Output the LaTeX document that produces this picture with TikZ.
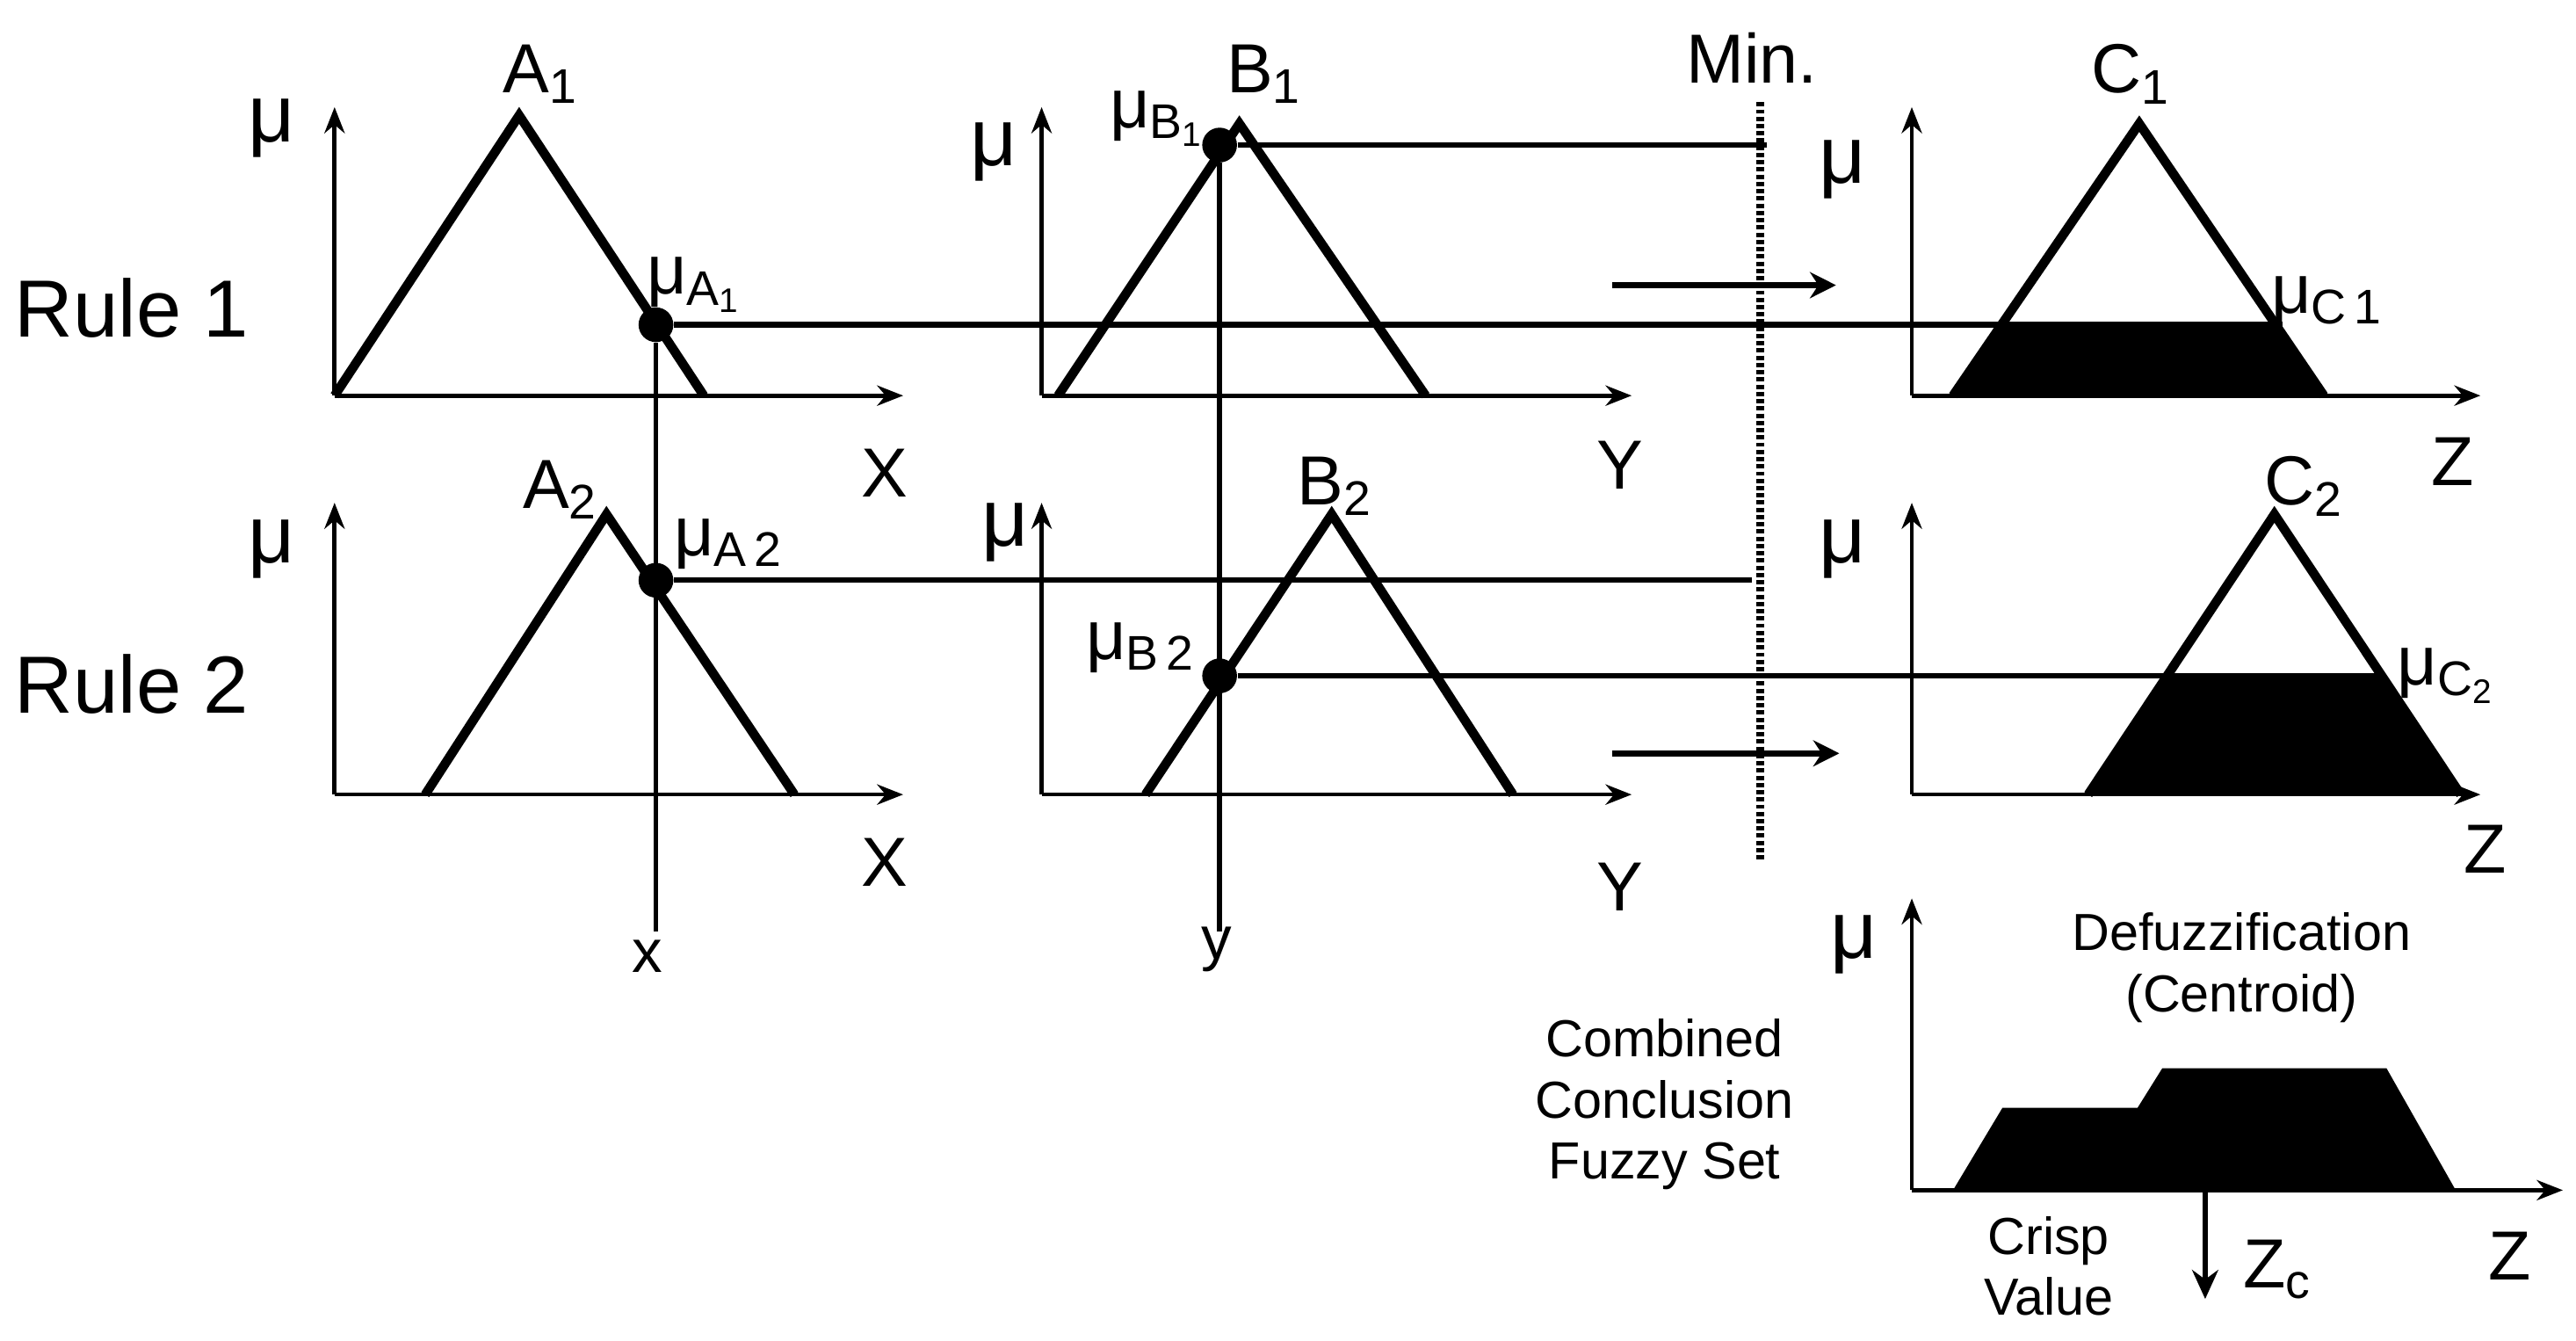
\documentclass[tikz,border=0pt]{standalone}
\usepackage{fontspec}
\setmainfont{Liberation Sans}
\usetikzlibrary{arrows.meta}
\begin{document}
\begin{tikzpicture}[x=0.02cm,y=-0.02cm,
  ax/.style={line width=1.4pt,-{Stealth[length=9pt,width=7pt]}},
  tri/.style={line width=3.2pt,line join=miter},
  hl/.style={line width=2.4pt},
  ln/.style={line width=1.7pt},
  dot/.style={circle,fill=black,inner sep=0pt,minimum size=12pt},
  big/.style={font=\fontsize{28}{30}\selectfont,inner sep=0pt},
  lab/.style={font=\fontsize{24}{26}\selectfont,inner sep=0pt},
  sm/.style={font=\fontsize{18}{21}\selectfont,inner sep=0pt,align=center}]
\useasboundingbox (0,0) rectangle (1563,813);
% axes
\foreach \n/\x/\y/\t/\l in {a1/203/240/65/548,a2/203/482/305/548,b1/632/240/65/990,b2/632/482/305/990,c1/1160/240/65/1505,c2/1160/482/305/1505,d/1160/722/545/1555}{
  \coordinate (o\n) at (\x,\y);
  \coordinate (t\n) at (\x,\t);
  \coordinate (r\n) at (\l,\y);
  \draw[ax] (o\n) -- (t\n);
  \draw[ax] (o\n) -- (r\n);
}
% fills
\fill (1185,240) -- (1213,197) -- (1383,197) -- (1410,240) -- cycle;
\fill (1267,482) -- (1313,410) -- (1445,410) -- (1493,482) -- cycle;
\fill (1185,722) -- (1215,672) -- (1297,672) -- (1312,648) -- (1448,648) -- (1490,722) -- cycle;
% triangles
\draw[tri] (203,240) -- (315,70) -- (427,240);
\draw[tri] (258,482) -- (368,312) -- (482,482);
\draw[tri] (642,240) -- (752,75) -- (865,240);
\draw[tri] (695,482) -- (808,312) -- (918,482);
\draw[tri] (1185,240) -- (1298,75) -- (1410,240);
\draw[tri] (1267,482) -- (1380,312) -- (1493,482);
% points
\node[dot] (pa1) at (398,197) {};
\node[dot] (pa2) at (398,352) {};
\node[dot] (pb1) at (740,88) {};
\node[dot] (pb2) at (740,410) {};
\coordinate (xb) at (398,565);
\coordinate (yb) at (740,565);
\coordinate (ea1) at (1385,197);
\coordinate (ea2) at (1063,352);
\coordinate (eb1) at (1072,88);
\coordinate (eb2) at (1445,410);
\draw[hl] (pa1) -- (ea1);
\draw[ln] (pa2) -- (ea2);
\draw[ln] (pb1) -- (eb1);
\draw[ln] (pb2) -- (eb2);
\draw[ln] (pa1) -- (xb);
\draw[ln] (pb1) -- (yb);
% min line
\coordinate (m1) at (1068,62);
\coordinate (m2) at (1068,523);
\draw[line width=2.5pt,dash pattern=on 1.5pt off 1pt] (m1) -- (m2);
\coordinate (ar1s) at (978,173); \coordinate (ar1e) at (1114,173);
\coordinate (ar2s) at (978,457); \coordinate (ar2e) at (1116,457);
\draw[line width=2pt,-{Stealth[length=9pt,width=9pt]}] (ar1s) -- (ar1e);
\draw[line width=2pt,-{Stealth[length=9pt,width=9pt]}] (ar2s) -- (ar2e);
\coordinate (zs) at (1338,722); \coordinate (ze) at (1338,788);
\draw[line width=2pt,-{Stealth[length=10pt,width=9pt]}] (zs) -- (ze);
% labels
\node[big] (r1) at (80,187) {Rule 1};
\node[big] (r2) at (80,415) {Rule 2};
\node[big] (mu1) at (165,78) {μ};
\node[big] (mu2) at (165,333) {μ};
\node[big] (mu3) at (603,92) {μ};
\node[big] (mu4) at (610,323) {μ};
\node[big] (mu5) at (1118,103) {μ};
\node[big] (mu6) at (1118,333) {μ};
\node[big] (mu7) at (1125,573) {μ};
\node[lab] (la1) at (328,45) {A\textsubscript{1}};
\node[lab] (la2) at (340,297) {A\textsubscript{2}};
\node[lab] (lb1) at (767,45) {B\textsubscript{1}};
\node[lab] (lb2) at (810,295) {B\textsubscript{2}};
\node[lab] (lc1) at (1293,45) {C\textsubscript{1}};
\node[lab] (lc2) at (1398,295) {C\textsubscript{2}};
\node[lab] (lma1) at (421,173) {μ\textsubscript{A\textsubscript{1}}};
\node[lab] (lma2) at (442,330) {μ\textsubscript{A\,2}};
\node[lab] (lmb1) at (702,72) {μ\textsubscript{B\textsubscript{1}}};
\node[lab] (lmb2) at (692,393) {μ\textsubscript{B\,2}};
\node[lab] (lmc1) at (1412,183) {μ\textsubscript{C\,1}};
\node[lab] (lmc2) at (1484,410) {μ\textsubscript{C\textsubscript{2}}};
\node[lab] (lx1) at (537,287) {X};
\node[lab] (lx2) at (537,523) {X};
\node[lab] (ly1) at (983,282) {Y};
\node[lab] (ly2) at (983,538) {Y};
\node[lab] (lz1) at (1488,280) {Z};
\node[lab] (lz2) at (1508,515) {Z};
\node[lab] (lz3) at (1523,762) {Z};
\node[lab] (lmin) at (1063,35) {Min.};
\node[sm,font=\fontsize{21}{23}\selectfont] (lx) at (393,580) {x};
\node[sm,font=\fontsize{21}{23}\selectfont] (ly) at (738,576) {y};
\node[lab] (lzc) at (1382,770) {Z\textsubscript{c}};
\node[sm] (def) at (1360,587) {Defuzzification\\(Centroid)};
\node[sm] (comb) at (1010,670) {Combined\\Conclusion\\Fuzzy Set};
\node[sm] (crisp) at (1243,768) {Crisp\\Value};
\end{tikzpicture}
\end{document}
